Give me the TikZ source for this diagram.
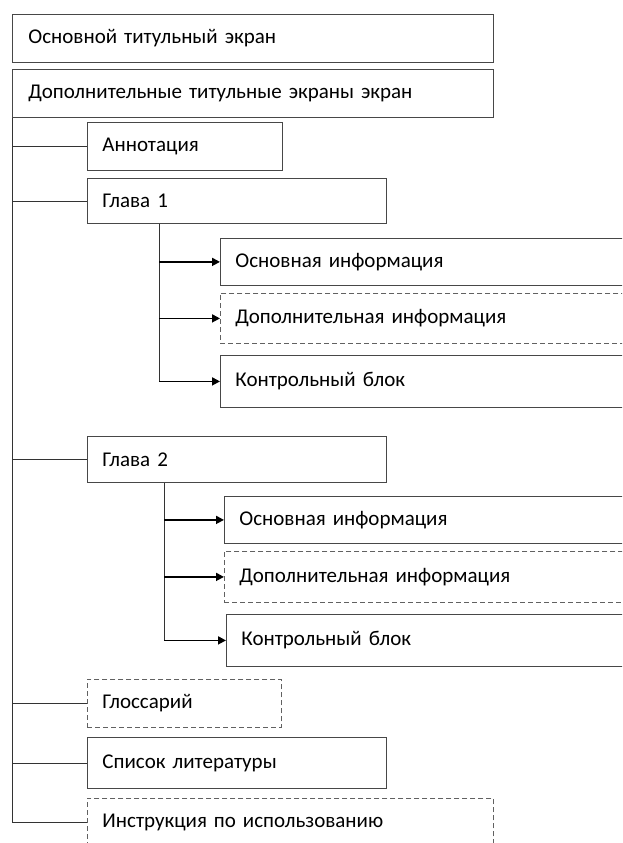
\documentclass[tikz,border=0pt]{standalone}
\usepackage{fontspec}
\setmainfont{Carlito}
\usetikzlibrary{positioning}
\usetikzlibrary{calc}
\usetikzlibrary{arrows.meta}

\begin{document}
\begin{tikzpicture}[x=1pt,y=-1pt,line width=0.8pt,
  block/.style={draw=black!72, anchor=north west, inner xsep=15pt, inner ysep=0pt,
    align=left, text width=#1, font=\fontsize{21}{25}\selectfont},
  dblock/.style={block=#1, draw=black!62, dash pattern=on 5pt off 3pt},
  link/.style={draw=black!80, line width=0.8pt},
  arr/.style={draw=black, line width=1.7pt, -{Triangle[length=8pt,width=8pt]}}]

  \useasboundingbox (0,0) rectangle (622,843);
  \clip (0,0) rectangle (622,843);

  % title screens
  \node[block=449pt, minimum height=48pt, inner xsep=16pt] (titul1) at (12,14) {Основной титульный экран};
  \node[block=449pt, minimum height=48pt, inner xsep=16pt] (titul2) at (12,69) {Дополнительные титульные экраны экран};

  % first level
  \node[block=165pt, minimum height=48pt] (annot)  at (87,122) {Аннотация};
  \node[block=269pt, minimum height=45pt] (glava1) at (87,178) {Глава 1};
  \node[block=269pt, minimum height=46pt] (glava2) at (87,436) {Глава 2};
  \node[dblock=164pt, minimum height=48pt] (gloss) at (87,679) {Глоссарий};
  \node[block=269pt, minimum height=51pt] (spisok) at (87,737) {Список литературы};
  \node[dblock=376pt, minimum height=48pt] (instr) at (87,798) {Инструкция по использованию};

  % chapter 1 parts
  \node[block=400pt, minimum height=47pt] (osn1)   at (220,238) {Основная информация};
  \node[dblock=400pt, minimum height=50pt] (dop1)  at (220,293) {Дополнительная информация};
  \node[block=400pt, minimum height=52pt] (kontr1) at (220,355) {Контрольный блок};

  % chapter 2 parts
  \node[block=400pt, minimum height=47pt] (osn2)   at (224,496) {Основная информация};
  \node[dblock=400pt, minimum height=51pt] (dop2)  at (224,551) {Дополнительная информация};
  \node[block=400pt, minimum height=52pt] (kontr2) at (226,614) {Контрольный блок};

  % main trunk
  \draw[link] (titul2.south west) |- (instr.west);
  \foreach \n in {annot,glava1,glava2,gloss,spisok}
    \draw[link] (titul2.south west |- \n.west) -- (\n.west);

  % chapter branches
  \coordinate (s1) at ($(glava1.south west)+(72,0)$);
  \coordinate (s2) at ($(glava2.south west)+(77,0)$);
  \draw[link] (s1) -- (s1 |- kontr1.west);
  \draw[link] (s2) -- (s2 |- kontr2.west);
  \foreach \n in {osn1,dop1,kontr1}
    \draw[arr] (s1 |- \n.west) -- (\n.west);
  \foreach \n in {osn2,dop2,kontr2}
    \draw[arr] (s2 |- \n.west) -- (\n.west);

\end{tikzpicture}
\end{document}
